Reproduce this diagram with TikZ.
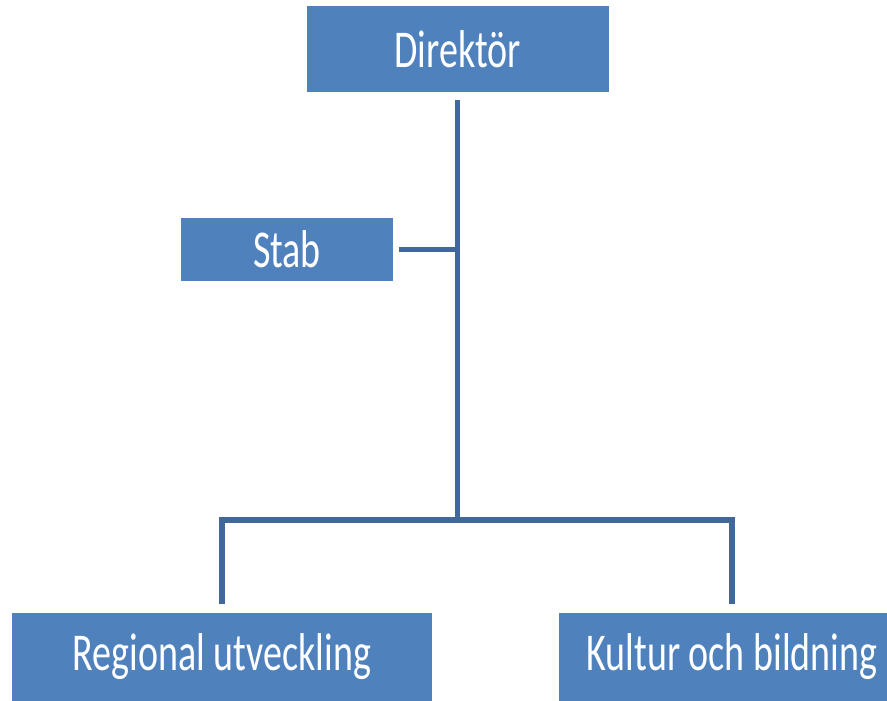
\documentclass[tikz,border=0pt]{standalone}
\usepackage{fontspec}
\setmainfont{Carlito}
\usepackage{graphicx}
\definecolor{boxblue}{HTML}{4F81BD}
\definecolor{lineblue}{HTML}{41689A}
\tikzset{
  orgbox/.style={draw=none, fill=boxblue, text=white, inner sep=0pt, anchor=center,
    font=\fontsize{38}{40}\selectfont},
  conn/.style={draw=lineblue, line width=5.5pt}
}
\newcommand{\tall}[1]{\scalebox{1}[1.4]{#1}}
\begin{document}
\begin{tikzpicture}[x=1pt,y=-1pt]
\path[use as bounding box] (0,0) rectangle (887,701);
\clip (0,0) rectangle (887,701);
\node[orgbox, minimum width=302pt, minimum height=86pt] (dir) at (457.5,49) {\tall{Direktör}};
\node[orgbox, minimum width=212pt, minimum height=63pt] (stab) at (287,249.5) {\tall{Stab}};
\node[orgbox, minimum width=420pt, minimum height=88pt] (reg) at (222,657) {\tall{Regional utveckling}};
\node[orgbox, minimum width=346pt, minimum height=88pt] (kul) at (732,657) {\tall{Kultur och bildning}};
\coordinate (j) at (457.5,520);
\draw[conn] ([yshift=-8pt]dir.south) -- (j);
\draw[conn] ([xshift=6pt]stab.east) -- (stab.east -| j);
\draw[conn] ([yshift=9pt]reg.north) |- (j) -| ([yshift=9pt]kul.north);
\end{tikzpicture}
\end{document}
